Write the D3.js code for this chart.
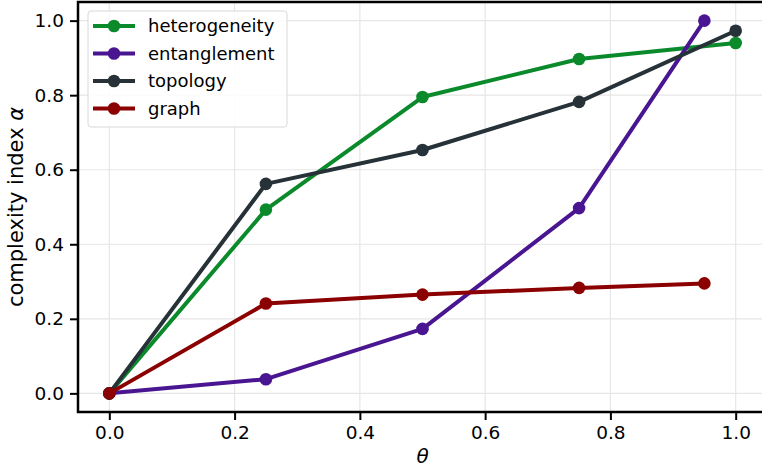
<!DOCTYPE html>
<html>
<head>
<meta charset="utf-8">
<script src="https://cdn.jsdelivr.net/npm/d3@7"></script>
<style>
  body { margin: 0; background: #fff; }
  text { font-family: "DejaVu Sans", sans-serif; }
</style>
</head>
<body>
<svg id="chart" width="762" height="468"></svg>
<script>
// series data
var seriesNames = ["heterogeneity", "entanglement", "topology", "graph"]
var seriesColors = ["#0b8a2c", "#4a1591", "#263238", "#8b0000"]
var heteroX = [0, 0.25, 0.5, 0.75, 1.0]
var heteroY = [0, 0.493, 0.795, 0.897, 0.94]
var entangX = [0, 0.25, 0.5, 0.75, 0.95]
var entangY = [0, 0.038, 0.173, 0.497, 1.0]
var topoX = [0, 0.25, 0.5, 0.75, 1.0]
var topoY = [0, 0.562, 0.653, 0.782, 0.973]
var graphX = [0, 0.25, 0.5, 0.75, 0.95]
var graphY = [0, 0.241, 0.265, 0.283, 0.295]
var tickVals = [0, 0.2, 0.4, 0.6, 0.8, 1.0]

var allX = [heteroX, entangX, topoX, graphX]
var allY = [heteroY, entangY, topoY, graphY]

var svg = d3.select("#chart")
// plot box (window.top is read-only, so own names)
var pL = 78, pR = 767, pT = 2, pB = 412

var x = d3.scaleLinear().domain([-0.05, 1.05]).range([pL, pR])
var y = d3.scaleLinear().domain([-0.05, 1.05]).range([pB, pT])

// grid
var grid = svg.append("g")
grid.selectAll(".gx").data(tickVals).enter().append("line")
  .attr("x1", d => x(d)).attr("x2", d => x(d))
  .attr("y1", pT).attr("y2", pB)
  .attr("stroke", "#e6e6e6").attr("stroke-width", 1.2)
grid.selectAll(".gy").data(tickVals).enter().append("line")
  .attr("x1", pL).attr("x2", pR)
  .attr("y1", d => y(d)).attr("y2", d => y(d))
  .attr("stroke", "#e6e6e6").attr("stroke-width", 1.2)

// lines + markers
var line = d3.line().x(d => x(d[0])).y(d => y(d[1]))
seriesNames.forEach(function(name, i) {
  var pts = allX[i].map((v, j) => [v, allY[i][j]])
  svg.append("path").datum(pts)
    .attr("d", line)
    .attr("fill", "none")
    .attr("stroke", seriesColors[i])
    .attr("stroke-width", 4)
    .attr("stroke-linejoin", "round")
  svg.selectAll(".m" + i).data(pts).enter().append("circle")
    .attr("cx", d => x(d[0])).attr("cy", d => y(d[1]))
    .attr("r", 6.3).attr("fill", seriesColors[i])
})

// axes
var xAxis = svg.append("g").attr("transform", "translate(0," + pB + ")")
  .call(d3.axisBottom(x).tickValues(tickVals).tickFormat(d3.format(".1f")).tickSize(8).tickPadding(6))
var yAxis = svg.append("g").attr("transform", "translate(" + pL + ",0)")
  .call(d3.axisLeft(y).tickValues(tickVals).tickFormat(d3.format(".1f")).tickSize(8).tickPadding(6))
;[xAxis, yAxis].forEach(function(a) {
  a.select(".domain").remove()
  a.selectAll(".tick line").attr("stroke", "#000").attr("stroke-width", 2)
  a.selectAll(".tick text").attr("fill", "#000").style("font-size", "18.5px")
})

// spines
svg.append("rect")
  .attr("x", pL).attr("y", pT)
  .attr("width", pR - pL).attr("height", pB - pT)
  .attr("fill", "none").attr("stroke", "#000").attr("stroke-width", 2.5)

// axis labels
svg.append("text")
  .attr("x", x(0.5)).attr("y", 463)
  .attr("text-anchor", "middle")
  .style("font-size", "20px").style("font-style", "italic")
  .text("θ")
svg.append("text")
  .attr("transform", "translate(23," + y(0.5) + ") rotate(-90)")
  .attr("text-anchor", "middle")
  .style("font-size", "21px")
  .html('complexity index <tspan font-style="italic">α</tspan>')

// legend
var legend = svg.append("g")
legend.append("rect")
  .attr("x", 88).attr("y", 11).attr("width", 199).attr("height", 116)
  .attr("rx", 3).attr("fill", "#fff").attr("fill-opacity", 0.85)
  .attr("stroke", "#d8d8d8").attr("stroke-width", 1)
seriesNames.forEach(function(name, i) {
  var ly = 26 + i * 27.5
  legend.append("line")
    .attr("x1", 93).attr("x2", 135).attr("y1", ly).attr("y2", ly)
    .attr("stroke", seriesColors[i]).attr("stroke-width", 4)
  legend.append("circle")
    .attr("cx", 114).attr("cy", ly).attr("r", 6.3).attr("fill", seriesColors[i])
  legend.append("text")
    .attr("x", 148).attr("y", ly).attr("dy", "0.35em")
    .style("font-size", "18px")
    .text(name)
})
</script>
</body>
</html>
